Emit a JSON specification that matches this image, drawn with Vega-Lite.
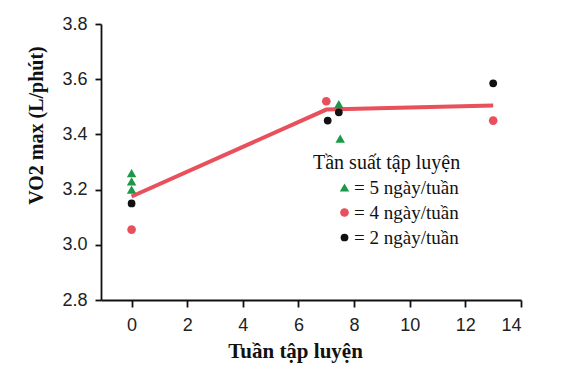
{
  "$schema": "https://vega.github.io/schema/vega-lite/v6.json",
  "width": 420,
  "height": 276,
  "autosize": {"type": "none"},
  "padding": {"left": 101, "top": 24, "right": 50, "bottom": 72},
  "background": "white",
  "config": {
    "view": {"stroke": null},
    "axis": {
      "grid": false,
      "domainColor": "#111",
      "domainWidth": 1.8,
      "tickColor": "#111",
      "tickWidth": 1.8,
      "tickSize": 7,
      "labelFont": "Liberation Sans",
      "labelFontSize": 18,
      "labelColor": "#222",
      "titleFont": "Liberation Serif",
      "titleFontWeight": "bold",
      "titleColor": "#111"
    },
    "legend": {
      "orient": "none",
      "legendX": 212,
      "legendY": 129,
      "titleFont": "Liberation Serif",
      "titleFontWeight": "normal",
      "titleFontSize": 20,
      "titleColor": "#111",
      "titlePadding": 5,
      "labelFont": "Liberation Serif",
      "labelFontSize": 19,
      "labelColor": "#111",
      "rowPadding": 5,
      "symbolOffset": 22,
      "labelOffset": 0,
      "titleLimit": 300,
      "labelLimit": 300
    }
  },
  "layer": [
    {
      "data": {"values": [
        {"week": 0, "vo2": 3.175},
        {"week": 7, "vo2": 3.49},
        {"week": 13, "vo2": 3.505}
      ]},
      "mark": {"type": "line", "color": "#e8505b", "strokeWidth": 4},
      "encoding": {
        "x": {"field": "week", "type": "quantitative"},
        "y": {"field": "vo2", "type": "quantitative"}
      }
    },
    {
      "data": {"values": [
        {"week": 0, "vo2": 3.26, "group": "5 ngày/tuần"},
        {"week": 0, "vo2": 3.23, "group": "5 ngày/tuần"},
        {"week": 0, "vo2": 3.2, "group": "5 ngày/tuần"},
        {"week": 7.45, "vo2": 3.51, "group": "5 ngày/tuần"},
        {"week": 7.5, "vo2": 3.385, "group": "5 ngày/tuần"},
        {"week": 0, "vo2": 3.055, "group": "4 ngày/tuần"},
        {"week": 7.0, "vo2": 3.52, "group": "4 ngày/tuần"},
        {"week": 13, "vo2": 3.45, "group": "4 ngày/tuần"},
        {"week": 0, "vo2": 3.15, "group": "2 ngày/tuần"},
        {"week": 7.05, "vo2": 3.45, "group": "2 ngày/tuần"},
        {"week": 7.45, "vo2": 3.48, "group": "2 ngày/tuần"},
        {"week": 13, "vo2": 3.585, "group": "2 ngày/tuần"}
      ]},
      "mark": {"type": "point", "filled": true, "opacity": 1},
      "encoding": {
        "x": {
          "field": "week", "type": "quantitative",
          "scale": {"domain": [-1.1, 14], "nice": false, "zero": false},
          "axis": {
            "values": [0, 2, 4, 6, 8, 10, 12, 14],
            "labelPadding": 9,
            "title": "Tuần tập luyện",
            "titleFontSize": 21,
            "titleBaseline": "alphabetic",
            "titleX": 194,
            "titleY": 57
          }
        },
        "y": {
          "field": "vo2", "type": "quantitative",
          "scale": {"domain": [2.8, 3.8], "nice": false, "zero": false},
          "axis": {
            "values": [2.8, 2.9, 3.0, 3.1, 3.2, 3.3, 3.4, 3.5, 3.6, 3.7, 3.8],
            "labelExpr": "round(datum.value*10) % 2 == 0 ? format(datum.value, '.1f') : ''",
            "labelPadding": 8,
            "tickSize": 6,
            "title": "VO2 max (L/phút)",
            "titleFontSize": 20,
            "titleBaseline": "alphabetic",
            "titleX": -59,
            "titleY": 101
          }
        },
        "shape": {
          "field": "group", "type": "nominal",
          "scale": {"domain": ["5 ngày/tuần", "4 ngày/tuần", "2 ngày/tuần"], "range": ["triangle-up", "circle", "circle"]},
          "legend": {"title": "Tần suất tập luyện", "labelExpr": "'= ' + datum.label"}
        },
        "color": {
          "field": "group", "type": "nominal",
          "scale": {"domain": ["5 ngày/tuần", "4 ngày/tuần", "2 ngày/tuần"], "range": ["#1a9a48", "#e8505b", "#111111"]},
          "legend": {"title": "Tần suất tập luyện", "labelExpr": "'= ' + datum.label"}
        },
        "size": {
          "field": "group", "type": "nominal",
          "scale": {"domain": ["5 ngày/tuần", "4 ngày/tuần", "2 ngày/tuần"], "range": [90, 60, 60]},
          "legend": {"title": "Tần suất tập luyện", "labelExpr": "'= ' + datum.label"}
        }
      }
    }
  ]
}
